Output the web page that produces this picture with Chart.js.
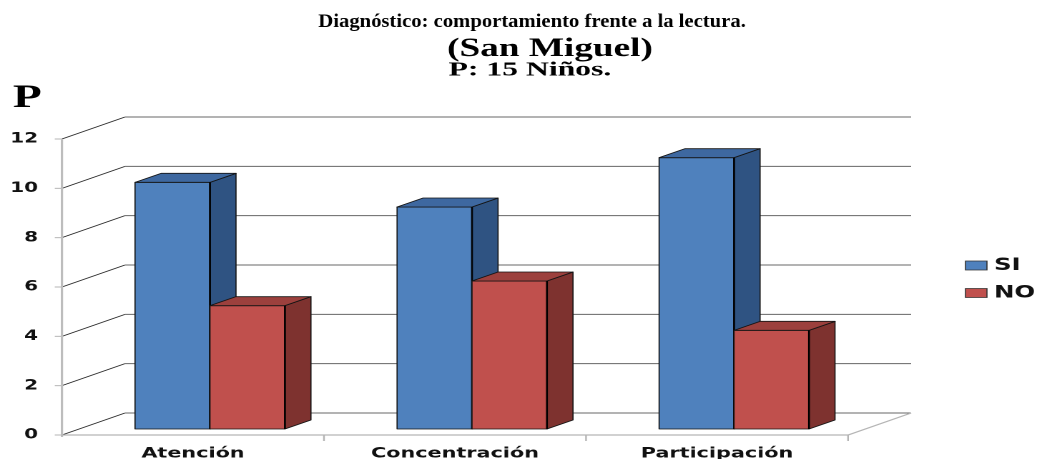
<!DOCTYPE html>
<html>
<head>
<meta charset="utf-8">
<script src="https://cdn.jsdelivr.net/npm/chart.js@4/dist/chart.umd.min.js"></script>
<style>
  html, body { margin: 0; padding: 0; background: #ffffff; overflow: hidden; }
  #c { display: block; width: 1047px; height: 459px; }
</style>
</head>
<body>
<canvas id="c" width="732" height="459" style="width:1047px;height:459px;display:block"></canvas>
<script>
// ---- data ----
const categories = ['Atención', 'Concentración', 'Participación'];
const seriesNames = ['SI', 'NO'];
const siValues = [10, 9, 11];
const noValues = [5, 6, 4];
const yMin = 0, yMax = 12, yStep = 2;
const titleLines = ['Diagnóstico: comportamiento frente a la lectura.', '(San Miguel)', 'P: 15 Niños.'];
const yAxisTitle = 'P';

// ---- styles ----
const faceColors = [
  { front: '#4F81BD', side: '#2F5382', top: '#3E68A0' },
  { front: '#C0504D', side: '#7E322F', top: '#9C403D' }
];
const FRONT = { dx: -11.9, dy: 6 };
const BACK = { dx: 32.2, dy: -16 };
const BAR = { dx: 18.2, dy: -9 };

function drawLine(ctx, text, font, cx, baseline, sx) {
  ctx.save();
  ctx.font = font;
  ctx.textAlign = 'center';
  ctx.textBaseline = 'alphabetic';
  ctx.translate(cx, baseline);
  ctx.scale(sx, 1);
  ctx.fillText(text, 0, 0);
  ctx.restore();
}

const threeD = {
  id: 'threeD',
  beforeDatasetsDraw(chart) {
    const { ctx, chartArea: a, scales: { y } } = chart;
    ctx.save();
    const fx = a.left + FRONT.dx, bx = a.left + BACK.dx, bxr = a.right + BACK.dx;
    for (let v = yMin; v <= yMax; v += yStep) {
      const py = y.getPixelForValue(v);
      ctx.strokeStyle = '#2a2a2a'; ctx.lineWidth = 0.8;
      ctx.beginPath(); ctx.moveTo(fx, py + FRONT.dy); ctx.lineTo(bx, py + BACK.dy); ctx.stroke();
      ctx.strokeStyle = '#666'; ctx.lineWidth = 1;
      ctx.beginPath(); ctx.moveTo(bx, py + BACK.dy); ctx.lineTo(bxr, py + BACK.dy); ctx.stroke();
      ctx.strokeStyle = '#b5b5b5'; ctx.lineWidth = 1;
      ctx.beginPath(); ctx.moveTo(fx - 5, py + FRONT.dy); ctx.lineTo(fx, py + FRONT.dy); ctx.stroke();
    }
    const p0 = y.getPixelForValue(yMin), p1 = y.getPixelForValue(yMax);
    ctx.strokeStyle = '#bdbdbd'; ctx.lineWidth = 1.6;
    ctx.beginPath(); ctx.moveTo(fx, p1 + FRONT.dy); ctx.lineTo(fx, p0 + FRONT.dy + 2); ctx.stroke();
    const fxr = a.right + FRONT.dx;
    ctx.strokeStyle = '#b5b5b5'; ctx.lineWidth = 1.2;
    ctx.beginPath(); ctx.moveTo(fx, p0 + FRONT.dy); ctx.lineTo(fxr, p0 + FRONT.dy); ctx.lineTo(bxr, p0 + BACK.dy); ctx.stroke();
    const cw = (a.right - a.left) / categories.length;
    for (let k = 1; k <= categories.length; k++) {
      const tx = fx + k * cw;
      ctx.beginPath(); ctx.moveTo(tx, p0 + FRONT.dy); ctx.lineTo(tx, p0 + FRONT.dy + 6); ctx.stroke();
    }
    ctx.restore();
  },
  afterDatasetsDraw(chart) {
    const { ctx } = chart;
    ctx.save();
    ctx.lineJoin = 'round';
    const metas = chart.data.datasets.map((_, d) => chart.getDatasetMeta(d));
    for (let i = 0; i < categories.length; i++) {
      for (let d = 0; d < metas.length; d++) {
        const el = metas[d].data[i];
        const { x, y, base, width } = el.getProps(['x', 'y', 'base', 'width'], true);
        const l = x - width / 2, r = x + width / 2;
        const c = faceColors[d];
        ctx.strokeStyle = '#151515'; ctx.lineWidth = 0.8;
        ctx.fillStyle = c.front;
        ctx.beginPath(); ctx.rect(l, y, width, base - y); ctx.fill(); ctx.stroke();
        ctx.fillStyle = c.side;
        ctx.beginPath();
        ctx.moveTo(r, y); ctx.lineTo(r + BAR.dx, y + BAR.dy); ctx.lineTo(r + BAR.dx, base + BAR.dy); ctx.lineTo(r, base); ctx.closePath();
        ctx.fill(); ctx.stroke();
        ctx.fillStyle = c.top;
        ctx.beginPath();
        ctx.moveTo(l, y); ctx.lineTo(l + BAR.dx, y + BAR.dy); ctx.lineTo(r + BAR.dx, y + BAR.dy); ctx.lineTo(r, y); ctx.closePath();
        ctx.fill(); ctx.stroke();
        ctx.strokeStyle = '#000'; ctx.lineWidth = 1.3;
        ctx.beginPath(); ctx.moveTo(r, y); ctx.lineTo(r, base); ctx.stroke();
      }
    }
    ctx.restore();
  },
  afterDraw(chart) {
    const { ctx } = chart;
    ctx.save();
    ctx.fillStyle = '#000';
    const serif = '"Liberation Serif", "Times New Roman", serif';
    drawLine(ctx, titleLines[0], 'bold 19px ' + serif, 372, 27, 0.76);
    drawLine(ctx, titleLines[1], 'bold 26px ' + serif, 384.5, 56, 1.0);
    drawLine(ctx, titleLines[2], 'bold 20.5px ' + serif, 370.5, 75.5, 1.08);
    ctx.textAlign = 'left';
    ctx.textBaseline = 'alphabetic';
    ctx.font = 'bold 33px ' + serif;
    ctx.fillText(yAxisTitle, 9, 107);
    // legend
    const lx = 675, ly = [265.5, 293];
    chart.data.datasets.forEach((ds, d) => {
      ctx.fillStyle = ds.backgroundColor;
      ctx.strokeStyle = '#333'; ctx.lineWidth = 0.8;
      ctx.beginPath(); ctx.rect(lx, ly[d] - 4.5, 15, 9); ctx.fill(); ctx.stroke();
      ctx.fillStyle = '#111';
      ctx.font = 'bold 17px "DejaVu Sans", Verdana, sans-serif';
      ctx.textBaseline = 'middle';
      ctx.textAlign = 'left';
      ctx.fillText(ds.label, 695, ly[d]);
    });
    ctx.restore();
  }
};

new Chart(document.getElementById('c'), {
  type: 'bar',
  data: {
    labels: categories,
    datasets: [
      { label: seriesNames[0], data: siValues, backgroundColor: faceColors[0].front, borderWidth: 0 },
      { label: seriesNames[1], data: noValues, backgroundColor: faceColors[1].front, borderWidth: 0 }
    ]
  },
  options: {
    responsive: false,
    devicePixelRatio: 2,
    animation: false,
    layout: { padding: { top: 133, right: 127.2, left: 0, bottom: 0 } },
    datasets: { bar: { barPercentage: 1, categoryPercentage: 0.572 } },
    plugins: { legend: { display: false }, title: { display: false }, tooltip: { enabled: false } },
    scales: {
      x: {
        grid: { display: false, drawTicks: false },
        border: { display: false },
        ticks: {
          font: { family: '"DejaVu Sans", Verdana, sans-serif', weight: 'bold', size: 14.5 },
          color: '#111', labelOffset: FRONT.dx, padding: 16, maxRotation: 0, autoSkip: false
        },
        afterFit: s => { s.height = 30; s.paddingLeft = 0; s.paddingRight = 0; }
      },
      y: {
        min: yMin, max: yMax,
        grid: { display: false, drawTicks: false },
        border: { display: false },
        ticks: {
          stepSize: yStep,
          font: { family: '"DejaVu Sans", Verdana, sans-serif', weight: 'bold', size: 14 },
          color: '#111', padding: 28.6, labelOffset: FRONT.dy
        },
        afterFit: s => { s.width = 55.2; s.paddingTop = 0; s.paddingBottom = 0; }
      }
    }
  },
  plugins: [threeD]
});
</script>
</body>
</html>
